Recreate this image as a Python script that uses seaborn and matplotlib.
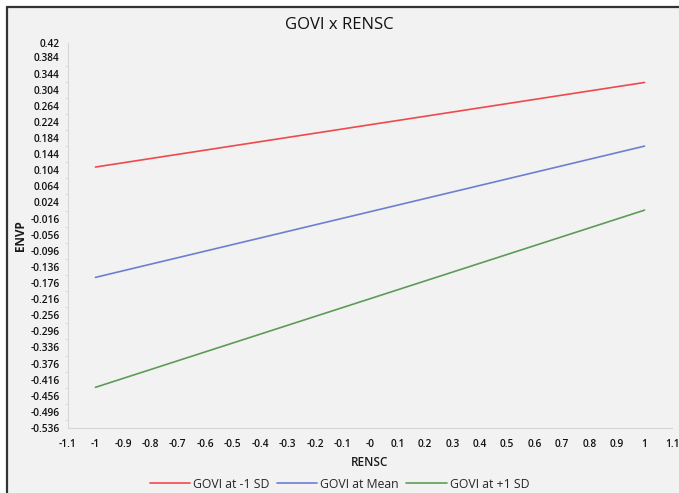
import matplotlib
matplotlib.use("Agg")
import matplotlib.pyplot as plt
from matplotlib.lines import Line2D
from matplotlib.ticker import FixedLocator
import numpy as np
import pandas as pd
import seaborn as sns

# Simple slopes of ENVP on RENSC at three levels of GOVI
rensc = [-1.0, 1.0]
govi_minus_1sd = [0.112, 0.322]
govi_mean = [-0.162, 0.164]
govi_plus_1sd = [-0.435, 0.005]

series_names = ["GOVI at -1 SD", "GOVI at Mean", "GOVI at +1 SD"]
series_colors = ["#ee4a4c", "#6e7fd0", "#5c9c58"]

x_ticks = [-1.1, -1.0, -0.9, -0.8, -0.7, -0.6, -0.5, -0.4, -0.3, -0.2, -0.1,
           0.0, 0.1, 0.2, 0.3, 0.4, 0.5, 0.6, 0.7, 0.8, 0.9, 1.0, 1.1]
x_tick_labels = ["-1.1", "-1", "-0.9", "-0.8", "-0.7", "-0.6", "-0.5", "-0.4",
                 "-0.3", "-0.2", "-0.1", "-0", "0.1", "0.2", "0.3", "0.4", "0.5",
                 "0.6", "0.7", "0.8", "0.9", "1", "1.1"]
y_tick_labels = ["-0.536", "-0.496", "-0.456", "-0.416", "-0.376", "-0.336",
                 "-0.296", "-0.256", "-0.216", "-0.176", "-0.136", "-0.096",
                 "-0.056", "-0.016", "0.024", "0.064", "0.104", "0.144", "0.184",
                 "0.224", "0.264", "0.304", "0.344", "0.384", "0.42"]

df = pd.concat([
    pd.DataFrame({"RENSC": rensc, "ENVP": vals, "series": name})
    for name, vals in zip(series_names, [govi_minus_1sd, govi_mean, govi_plus_1sd])
], ignore_index=True)

sns.set_theme(style="white")
plt.rcParams["font.family"] = ["Open Sans", "DejaVu Sans"]

bg = "#f2f2f2"
fig = plt.figure(figsize=(6.79, 4.93), dpi=100, facecolor="white")
# panel background with a dark frame on the top and left edges
panel = plt.Rectangle((7 / 679, 0), 1, 1 - 7 / 493, transform=fig.transFigure,
                      facecolor=bg, edgecolor="none", zorder=-10)
fig.patches.append(panel)
fig.add_artist(Line2D([7 / 679, 7 / 679], [0, 1 - 7 / 493],
                      transform=fig.transFigure, color="#333333", lw=1.6))
fig.add_artist(Line2D([7 / 679, 1], [1 - 7 / 493, 1 - 7 / 493],
                      transform=fig.transFigure, color="#333333", lw=1.6))

ax = fig.add_axes([68 / 679, 1 - 428 / 493, (672 - 68) / 679, (428 - 43) / 493])
ax.set_zorder(2)
ax.set_facecolor(bg)

sns.lineplot(data=df, x="RENSC", y="ENVP", hue="series", palette=series_colors,
             hue_order=series_names, linewidth=1.2, ax=ax, legend=False)

ax.set_xlim(-1.1, 1.1)
ax.set_ylim(-0.536, 0.42)
ax.xaxis.set_major_locator(FixedLocator(x_ticks))
ax.set_xticklabels(x_tick_labels, fontweight="semibold")
y_ticks = [float(s) for s in y_tick_labels]
ax.yaxis.set_major_locator(FixedLocator(y_ticks))
ax.set_yticklabels(y_tick_labels, fontweight="semibold")
ax.yaxis.set_minor_locator(FixedLocator(list(np.arange(-0.516, 0.40, 0.04))))

for side in ["top", "right"]:
    ax.spines[side].set_visible(False)
for side in ["left", "bottom"]:
    ax.spines[side].set_color("#d4d6da")
    ax.spines[side].set_linewidth(0.8)

ax.tick_params(axis="both", which="major", direction="out", length=4,
               width=0.8, color="#d4d6da", labelsize=7.3, labelcolor="#111111",
               pad=2)
ax.tick_params(axis="y", which="minor", direction="out", length=2.5,
               width=0.6, color="#d4d6da", left=True)
ax.tick_params(axis="x", pad=4)

ax.set_xlabel("RENSC", fontsize=8.5, fontweight="semibold", color="#1a1a1a",
              labelpad=4)
ax.set_ylabel("ENVP", fontsize=8.5, fontweight="bold", color="#1a1a1a")
ax.yaxis.set_label_coords(-0.068, 0.5)

fig.text(0.5, 1 - 25 / 493, "GOVI x RENSC", ha="center", va="center",
         fontsize=12, color="#111111")

handles = [Line2D([0], [0], color=c, lw=1.2) for c in series_colors]
fig.legend(handles, series_names, loc="center", bbox_to_anchor=(0.5, 1 - 484 / 493),
           ncol=3, frameon=False, fontsize=8.8, handlelength=3.3,
           handletextpad=0.25, columnspacing=0.6)

fig.savefig("out.png", dpi=100, facecolor="white")
